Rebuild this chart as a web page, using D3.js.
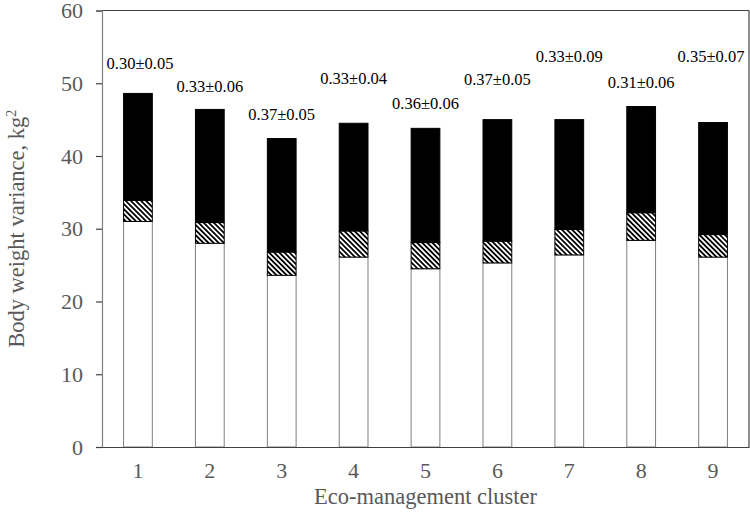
<!DOCTYPE html>
<html>
<head>
<meta charset="utf-8">
<script src="https://cdn.jsdelivr.net/npm/d3@7"></script>
<style>
  body { margin: 0; background: #fff; }
  text { font-family: "Liberation Serif", "Times New Roman", serif; }
</style>
</head>
<body>
<div id="chart"></div>
<script>
// cluster categories and the three stacked components (kg^2)
const clusters = ["1", "2", "3", "4", "5", "6", "7", "8", "9"];
const lowerPart = [31.0, 28.0, 23.6, 26.1, 24.5, 25.3, 26.4, 28.4, 26.1];
const middlePart = [2.9, 2.85, 3.2, 3.6, 3.6, 3.0, 3.5, 3.8, 3.1];
const upperPart = [14.7, 15.55, 15.6, 14.8, 15.7, 16.7, 15.1, 14.6, 15.4];

// heritability labels and the level (in kg^2) where each one sits
const h2Labels = ["0.30±0.05", "0.33±0.06", "0.37±0.05", "0.33±0.04", "0.36±0.06",
                  "0.37±0.05", "0.33±0.09", "0.31±0.06", "0.35±0.07"];
const labelLevel = [52.0, 48.8, 44.9, 49.9, 46.5, 49.7, 52.9, 49.3, 52.9];

const yTicks = [0, 10, 20, 30, 40, 50, 60];

const width = 750, height = 517;
const margin = { top: 10.5, right: 1, bottom: 70, left: 102 };

const svg = d3.select("#chart")
    .append("svg")
    .attr("width", width)
    .attr("height", height);

// hatch pattern for the middle segment
const defs = svg.append("defs");
const pat = defs.append("pattern")
    .attr("id", "hatch")
    .attr("patternUnits", "userSpaceOnUse")
    .attr("width", 3.6)
    .attr("height", 3.6)
    .attr("patternTransform", "rotate(-45)");
pat.append("rect").attr("width", 3.6).attr("height", 3.6).attr("fill", "#fff");
pat.append("rect").attr("width", 1.8).attr("height", 3.6).attr("fill", "#000");

const x = d3.scaleBand()
    .domain(clusters)
    .range([margin.left, width - margin.right])
    .paddingInner(0.6)
    .paddingOuter(0.3);

const y = d3.scaleLinear()
    .domain([0, 60])
    .range([height - margin.bottom, margin.top]);

const rows = clusters.map((c, i) => ({
    cluster: c, lower: lowerPart[i], middle: middlePart[i], upper: upperPart[i]
}));
const series = d3.stack().keys(["lower", "middle", "upper"])(rows);

const fills = { lower: "#fff", middle: "url(#hatch)", upper: "#000" };
const strokes = { lower: "#7f7f7f", middle: "#000", upper: "#000" };

// frame
svg.append("line")
    .attr("x1", margin.left).attr("x2", width - margin.right)
    .attr("y1", margin.top).attr("y2", margin.top)
    .attr("stroke", "#404040").attr("stroke-width", 1.2);
svg.append("line")
    .attr("x1", width - margin.right).attr("x2", width - margin.right)
    .attr("y1", margin.top).attr("y2", y(0))
    .attr("stroke", "#404040").attr("stroke-width", 1.2);

// bars
svg.append("g")
    .selectAll("g")
    .data(series)
    .join("g")
    .attr("fill", d => fills[d.key])
    .attr("stroke", d => strokes[d.key])
    .attr("stroke-width", 1)
    .selectAll("rect")
    .data(d => d)
    .join("rect")
    .attr("x", d => x(d.data.cluster))
    .attr("y", d => y(d[1]))
    .attr("width", x.bandwidth())
    .attr("height", d => y(d[0]) - y(d[1]));

// y axis
const yAxis = svg.append("g")
    .attr("transform", `translate(${margin.left},0)`)
    .call(d3.axisLeft(y).tickValues(yTicks).tickSize(6).tickPadding(13));
yAxis.select(".domain").attr("stroke", "#808080").attr("stroke-width", 1.2);
yAxis.selectAll(".tick line").attr("stroke", "#404040").attr("stroke-width", 1.2);
yAxis.selectAll(".tick text")
    .attr("fill", "#595959")
    .style("font-size", "22px")
    .style("font-family", "Liberation Serif");

// x axis
const xAxis = svg.append("g")
    .attr("transform", `translate(0,${y(0)})`)
    .call(d3.axisBottom(x).tickSize(0).tickPadding(15));
xAxis.select(".domain").attr("stroke", "#404040").attr("stroke-width", 1.2);
xAxis.selectAll(".tick text")
    .attr("fill", "#595959")
    .style("font-size", "22px")
    .style("font-family", "Liberation Serif");

// labels above bars, kept inside the frame
svg.append("g")
    .selectAll("text")
    .data(h2Labels)
    .join("text")
    .attr("x", (d, i) => {
        const cx = x(clusters[i]) + x.bandwidth() / 2;
        const half = 34;
        return Math.min(Math.max(cx, margin.left + 4 + half), width - margin.right - 4 - half);
    })
    .attr("y", (d, i) => y(labelLevel[i]))
    .attr("text-anchor", "middle")
    .attr("fill", "#000")
    .style("font-size", "16.5px")
    .text(d => d);

// axis titles
svg.append("text")
    .attr("x", (margin.left + width - margin.right) / 2)
    .attr("y", 504)
    .attr("text-anchor", "middle")
    .attr("fill", "#595959")
    .style("font-size", "22.5px")
    .text("Eco-management cluster");

const yTitle = svg.append("text")
    .attr("transform", `translate(24,${(margin.top + y(0)) / 2}) rotate(-90)`)
    .attr("text-anchor", "middle")
    .attr("fill", "#595959")
    .style("font-size", "22.5px");
yTitle.append("tspan").text("Body weight variance, kg");
yTitle.append("tspan").attr("dy", -8).style("font-size", "14px").text("2");
</script>
</body>
</html>
